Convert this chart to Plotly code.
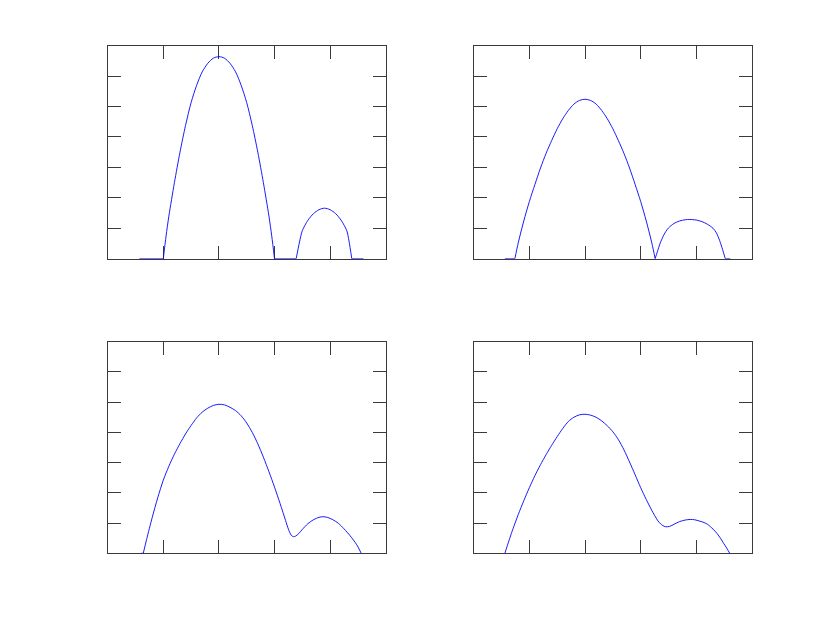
import plotly.graph_objects as go

# ---- data; None marks a break between smooth pieces ----
tl_x = [0.57, 1.0, None,
        1.0, 1.05, 1.1, 1.2, 1.3, 1.4, 1.5, 1.6, 1.7, 1.8, 1.9, 2.0,
        2.1, 2.2, 2.3, 2.4, 2.5, 2.6, 2.7, 2.8, 2.9, 2.95, 3.0, None,
        3.0, 3.39, None,
        3.39, 3.45, 3.50, 3.60, 3.70, 3.80, 3.90, 4.00, 4.10, 4.20, 4.30, 4.34, 4.39, None,
        4.39, 4.60]
tl_y = [0, 0, None,
        0, 0.75, 1.4, 2.5, 3.5, 4.38, 5.13, 5.70, 6.14, 6.42, 6.59, 6.64,
        6.59, 6.42, 6.14, 5.70, 5.13, 4.38, 3.5, 2.5, 1.4, 0.75, 0, None,
        0, 0, None,
        0, 0.55, 0.92, 1.26, 1.48, 1.61, 1.66, 1.61, 1.48, 1.26, 0.92, 0.58, 0, None,
        0, 0]

tr_x = [0.56, 0.74, None,
        0.74, 0.80, 0.90, 1.00, 1.10, 1.20, 1.30, 1.40, 1.50, 1.60, 1.70, 1.80, 1.90, 2.0,
        2.10, 2.20, 2.30, 2.40, 2.50, 2.60, 2.70, 2.80, 2.90, 3.00, 3.10, 3.20, 3.26, None,
        3.26, 3.30, 3.35, 3.40, 3.45, 3.50, 3.60, 3.70, 3.80, 3.88, 4.00, 4.10, 4.20, 4.30,
        4.36, 4.42, 4.47, 4.52, None,
        4.52, 4.61]
tr_y = [0, 0, None,
        0, 0.52, 1.24, 1.88, 2.44, 2.98, 3.46, 3.88, 4.27, 4.60, 4.87, 5.08, 5.20, 5.24,
        5.20, 5.08, 4.87, 4.60, 4.27, 3.88, 3.46, 2.98, 2.44, 1.88, 1.24, 0.52, 0, None,
        0, 0.23, 0.51, 0.72, 0.89, 1.01, 1.16, 1.24, 1.28, 1.29, 1.27, 1.22, 1.13, 1.0,
        0.85, 0.59, 0.31, 0, None,
        0, 0]

bl_x = [0.60, 0.64, None,
        0.64, 0.70, 0.80, 0.90, 1.00, 1.10, 1.20, 1.30, 1.40, 1.50, 1.60, 1.70, 1.80, 1.90, 2.00,
        2.10, 2.20, 2.30, 2.40, 2.50, 2.60, 2.70, 2.80, 2.90, 3.00, 3.10, 3.20, 3.25, 3.30, 3.34,
        3.38, 3.44, 3.50, 3.60, 3.70, 3.80, 3.87, 3.95, 4.05, 4.15, 4.25, 4.36, 4.48, 4.56]
bl_y = [0, 0, None,
        0, 0.46, 1.18, 1.84, 2.42, 2.88, 3.28, 3.63, 3.95, 4.23, 4.48, 4.67, 4.80, 4.89, 4.93,
        4.91, 4.83, 4.72, 4.55, 4.31, 4.00, 3.62, 3.18, 2.70, 2.19, 1.65, 1.08, 0.80, 0.60, 0.55,
        0.57, 0.66, 0.79, 0.98, 1.11, 1.19, 1.21, 1.19, 1.11, 0.99, 0.81, 0.58, 0.28, 0]

br_x = [0.56, 0.60, 0.70, 0.80, 0.90, 1.00, 1.10, 1.20, 1.30, 1.40, 1.50, 1.60, 1.70, 1.80, 1.90, 2.00,
        2.10, 2.20, 2.30, 2.40, 2.50, 2.60, 2.70, 2.80, 2.90, 3.00, 3.10, 3.20, 3.30, 3.36, 3.44,
        3.52, 3.60, 3.70, 3.80, 3.89, 3.97, 4.05, 4.12, 4.20, 4.30, 4.37, 4.44, 4.49, 4.55, 4.60]
br_y = [0, 0.23, 0.78, 1.28, 1.74, 2.17, 2.57, 2.93, 3.26, 3.57, 3.86, 4.13, 4.36, 4.50, 4.58, 4.60,
        4.57, 4.50, 4.38, 4.22, 4.02, 3.76, 3.42, 3.02, 2.60, 2.17, 1.78, 1.42, 1.10, 0.97, 0.88,
        0.89, 0.96, 1.05, 1.10, 1.12, 1.11, 1.07, 1.03, 0.96, 0.80, 0.66, 0.48, 0.33, 0.16, 0]

x_ticks = [0, 1, 2, 3, 4, 5]
y_ticks = [0, 1, 2, 3, 4, 5, 6, 7]

PAGE_OFF = 8            # browser default body margin
W, H = 831 - PAGE_OFF, 622 - PAGE_OFF
# plot-area boxes in window pixels (left, right, top, bottom)
boxes = [(107.7, 385.7, 45.7, 258.7), (473.7, 752.0, 45.7, 258.7),
         (107.7, 385.7, 341.7, 553.3), (473.7, 752.0, 341.7, 553.3)]
series = [(tl_x, tl_y), (tr_x, tr_y), (bl_x, bl_y), (br_x, br_y)]

fig = go.Figure()
axcol = '#3a3a3a'
for i, ((xs, ys), (l, r, t, b)) in enumerate(zip(series, boxes), start=1):
    l, r, t, b = l - PAGE_OFF, r - PAGE_OFF, t - PAGE_OFF, b - PAGE_OFF
    sx = '' if i == 1 else str(i)
    fig.add_trace(go.Scatter(x=xs, y=ys, mode='lines', connectgaps=False,
                             line=dict(color='#0000ff', width=0.9, shape='spline', smoothing=0.8),
                             xaxis='x' + sx, yaxis='y' + sx,
                             hoverinfo='skip', showlegend=False))
    common = dict(ticks='inside', ticklen=13, tickwidth=1, tickcolor=axcol,
                  showline=True, linecolor=axcol, linewidth=1, mirror='ticks',
                  showticklabels=False, showgrid=False, zeroline=False,
                  layer='below traces', fixedrange=True)
    fig.update_layout(**{
        'xaxis' + sx: dict(domain=[l / W, r / W], range=[0, 5], tickvals=x_ticks,
                           anchor='y' + sx, **common),
        'yaxis' + sx: dict(domain=[(H - b) / H, (H - t) / H], range=[0, 7], tickvals=y_ticks,
                           anchor='x' + sx, **common),
    })

fig.update_layout(width=W, height=H, margin=dict(l=0, r=0, t=0, b=0),
                  paper_bgcolor='white', plot_bgcolor='white', showlegend=False)

fig.write_html("out.html")
